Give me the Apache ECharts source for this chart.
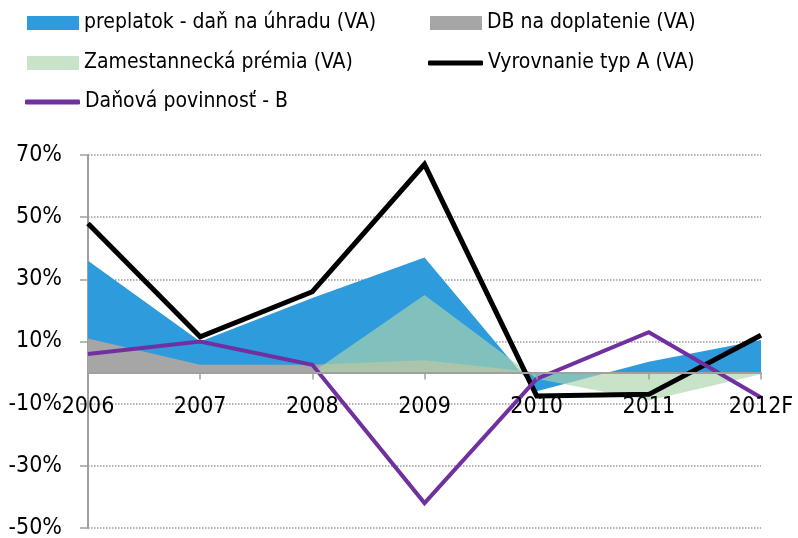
<!DOCTYPE html>
<html>
<head>
<meta charset="utf-8">
<script src="https://cdn.jsdelivr.net/npm/echarts@6/dist/echarts.min.js"></script>
<style>
  html, body { margin: 0; padding: 0; background: #fff; }
  #main { width: 798px; height: 538px; }
</style>
</head>
<body>
<div id="main"></div>
<script>
// data (in %)
var years = ['2006', '2007', '2008', '2009', '2010', '2011', '2012F'];
var preplatok = [36, 10, 24, 37, -6, 3.5, 10.5];
var doplatenie = [11, 2.5, 2.5, 4, 0, 0, 0];
var premia = [0, 0, 0, 25, -2, -9, -0.5];
var vyrovnanieA = [48, 11.5, 26, 67, -7.5, -7, 12];
var povinnostB = [6, 10, 2.5, -42, -2, 13, -8];
var yTicks = { min: -50, max: 70, step: 20 };

var font = "'DejaVu Sans Condensed', 'Liberation Sans Narrow', sans-serif";
var names = [
  'preplatok - daň na úhradu (VA)',
  'DB na doplatenie (VA)',
  'Zamestannecká prémia (VA)',
  'Vyrovnanie typ A (VA)',
  'Daňová povinnosť - B'
];

var W = 798, H = 538;
var gridTop = 155, gridBottom = 10;
// labels sit under the zero line, not at the bottom of the plot
var plotH = H - gridTop - gridBottom;
var zeroY = gridTop + plotH * yTicks.max / (yTicks.max - yTicks.min);
var labelOffset = -(H - gridBottom - zeroY);

function legendAt(name, left, top, isLine) {
  return {
    data: [name],
    left: left,
    top: top,
    padding: 0,
    itemWidth: isLine ? 55 : 52,
    itemHeight: isLine ? 5 : 14,
    icon: isLine ? 'roundRect' : 'rect',
    selectedMode: false,
    textStyle: { fontFamily: font, fontSize: 21, color: '#000', lineHeight: 24 }
  };
}

function areaSeries(name, data, color) {
  return {
    name: name,
    type: 'line',
    data: data,
    symbol: 'none',
    color: color,
    lineStyle: { width: 0 },
    areaStyle: { color: color, opacity: 1 },
    silent: true
  };
}

function lineSeries(name, data, color, width) {
  return {
    name: name,
    type: 'line',
    data: data,
    symbol: 'none',
    color: color,
    lineStyle: { width: width, color: color, join: 'miter' },
    silent: true
  };
}

var chart = echarts.init(document.getElementById('main'), null, { renderer: 'canvas' });

var option = {
  animation: false,
  legend: [
    legendAt(names[0], 27, 11, false),
    legendAt(names[1], 430, 11, false),
    legendAt(names[2], 27, 51, false),
    legendAt(names[3], 428, 51, true),
    legendAt(names[4], 25, 90, true)
  ],
  grid: { left: 88, right: 37, top: gridTop, bottom: gridBottom, containLabel: false, outerBoundsMode: 'none' },
  xAxis: [{
    type: 'category',
    data: years,
    boundaryGap: false,
    axisLine: { onZero: true, lineStyle: { color: '#a0a0a0', width: 2 } },
    axisTick: { show: true, length: 7, lineStyle: { color: '#a0a0a0', width: 1.5 } },
    axisLabel: { show: false },
    splitLine: { show: false },
    z: 10
  }, {
    type: 'category',
    data: years,
    boundaryGap: false,
    position: 'bottom',
    offset: labelOffset,
    axisLine: { show: false, onZero: false },
    axisTick: { show: false },
    axisLabel: { fontFamily: font, fontSize: 23, color: '#000', margin: 23 },
    splitLine: { show: false },
    z: 11
  }],
  yAxis: {
    type: 'value',
    min: yTicks.min,
    max: yTicks.max,
    interval: yTicks.step,
    axisLine: { show: true, lineStyle: { color: '#a0a0a0', width: 2 } },
    axisTick: { show: true, length: 8, lineStyle: { color: '#a0a0a0', width: 1.5 } },
    axisLabel: { fontFamily: font, fontSize: 23, color: '#000', margin: 26, formatter: '{value}%' },
    splitLine: { show: true, lineStyle: { color: '#999', type: 'dotted', width: 1.5 } }
  },
  series: [
    areaSeries(names[0], preplatok, '#2e9bdd'),
    areaSeries(names[1], doplatenie, '#a6a6a6'),
    areaSeries(names[2], premia, 'rgba(173,213,173,0.66)'),
    lineSeries(names[3], vyrovnanieA, '#000000', 5),
    lineSeries(names[4], povinnostB, '#7030a0', 4)
  ]
};
chart.setOption(option);
</script>
</body>
</html>
